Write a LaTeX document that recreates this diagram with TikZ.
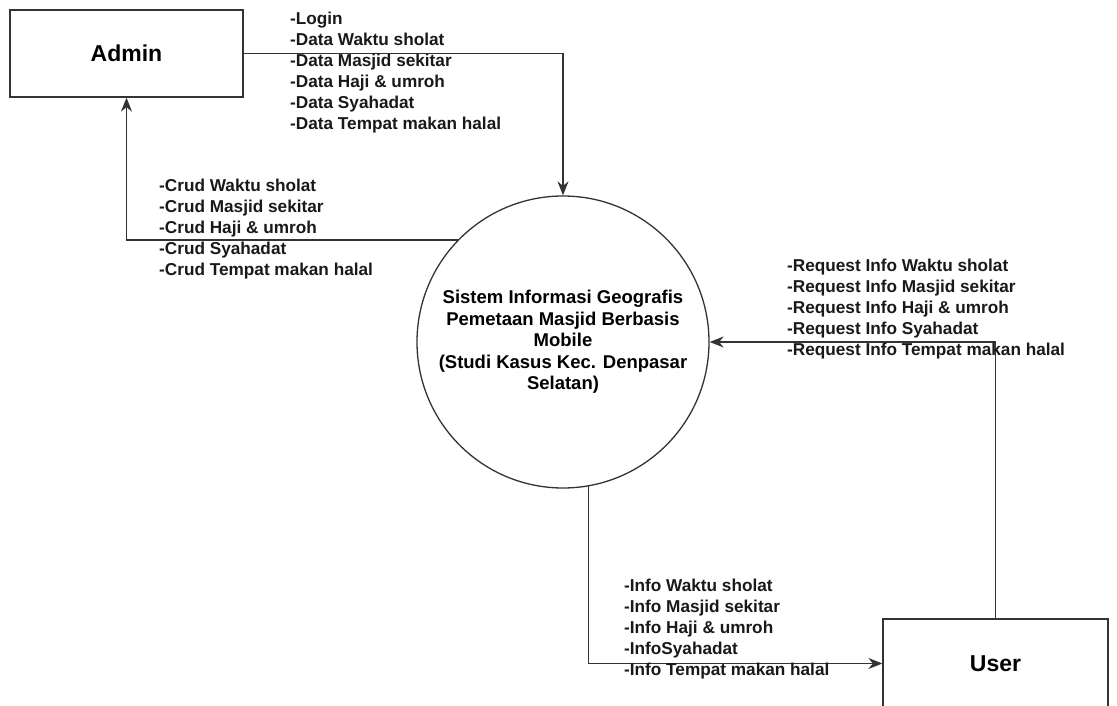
\documentclass[tikz,border=0pt]{standalone}
\usepackage{fontspec}
\setmainfont{Liberation Sans}
\usetikzlibrary{arrows.meta}

\tikzset{
  entity/.style={draw=black!80, line width=1.3pt, fill=white, font=\bfseries\fontsize{23}{27}\selectfont},
  process/.style={draw=black!80, line width=1.3pt, circle, align=center, inner sep=0pt,
    font=\bfseries\fontsize{18.5}{21.5}\selectfont},
  flow/.style={draw=black!80, line width=1.3pt, -{Stealth[length=14pt,width=11pt]}},
  flowlabel/.style={align=left, anchor=west, inner sep=0pt, text=black!90,
    font=\bfseries\fontsize{17.2}{21}\selectfont}
}

\begin{document}
\begin{tikzpicture}[x=1pt, y=-1pt]
  \useasboundingbox[fill=white] (0,0) rectangle (1117,706);
  \begin{scope}
    \clip (0,0) rectangle (1117,706);

    % entities and process
    \node[entity, minimum width=233pt, minimum height=87pt] (admin) at (126.5,53.5) {Admin};
    \node[entity, minimum width=225pt, minimum height=89pt] (user) at (995.5,663.5) {User};
    \node[process, minimum size=292pt] (sis) at (563,342)
      {Sistem Informasi Geografis\\Pemetaan Masjid Berbasis\\Mobile\\(Studi Kasus Kec. Denpasar\\Selatan)};

    % data flows
    \draw[flow] (admin.east) -| (sis.north);
    \draw[flow] (sis.136) -| (admin.south);
    \draw[flow] (user.north) |- (sis.east);
    \draw[flow] (sis.-80) |- (user.west);

    % flow labels
    \node[flowlabel] (lbldata) at (290,73)
      {-Login\\-Data Waktu sholat\\-Data Masjid sekitar\\-Data Haji \& umroh\\-Data Syahadat\\-Data Tempat makan halal};
    \node[flowlabel] (lblcrud) at (159,229)
      {-Crud Waktu sholat\\-Crud Masjid sekitar\\-Crud Haji \& umroh\\-Crud Syahadat\\-Crud Tempat makan halal};
    \node[flowlabel] (lblreq) at (787,309)
      {-Request Info Waktu sholat\\-Request Info Masjid sekitar\\-Request Info Haji \& umroh\\-Request Info Syahadat\\-Request Info Tempat makan halal};
    \node[flowlabel] (lblinfo) at (624,629)
      {-Info Waktu sholat\\-Info Masjid sekitar\\-Info Haji \& umroh\\-InfoSyahadat\\-Info Tempat makan halal};
  \end{scope}
\end{tikzpicture}
\end{document}
